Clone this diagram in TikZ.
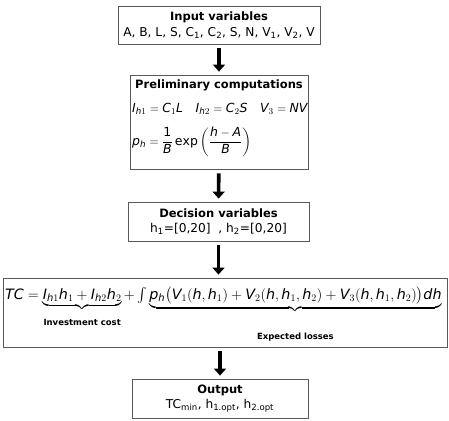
\documentclass[tikz,border=0pt]{standalone}
\usepackage{amsmath}
\usepackage{fontspec}
\setmainfont{DejaVu Sans}
\usetikzlibrary{arrows.meta}
\usetikzlibrary{positioning}
\tikzset{
  box/.style={draw=black!65, line width=0.8pt, inner sep=0pt, align=center,
    font=\fontsize{12.2}{14}\selectfont},
  title/.style={font=\fontsize{11.5}{13}\selectfont\bfseries, inner sep=0pt},
  flow/.style={line width=3.6pt, -{Triangle[width=12pt,length=7pt]},
    shorten <=4pt, shorten >=3pt}
}
\newcommand{\iv}[1]{\mathit{#1}}
\newcommand{\lo}[1]{\textsubscript{#1}}
\newcommand{\hd}[1]{{\fontsize{11.5}{13}\selectfont\bfseries #1}}
\newcommand{\notefont}{\fontsize{8.5}{10}\selectfont\bfseries}

\begin{document}
\begin{tikzpicture}[x=1pt,y=-1pt]
\useasboundingbox (0,0) rectangle (449,420);
% input
\node[box, minimum width=202pt, minimum height=38pt] (input) at (219,25)
  {\hd{Input variables}\\[2pt]
   A, B, L, S, C\lo{1}, C\lo{2}, S, N, V\lo{1}, V\lo{2}, V};
% preliminary computations
\node[box, minimum width=178pt, minimum height=94pt] (prelim) at (219,122) {};
\node[title] (prelimtitle) at (219,85) {Preliminary computations};
\node[anchor=west, inner sep=0pt, font=\fontsize{12.5}{14}\selectfont] (costs) at (132,109)
  {$\iv{I}_{\iv{h}1}=\iv{C}_1\iv{L}\quad \iv{I}_{\iv{h}2}=\iv{C}_2\iv{S}\quad \iv{V}_3=\iv{NV}$};
\node[anchor=west, inner sep=0pt, font=\fontsize{12.5}{14}\selectfont] (density) at (132,142)
  {$\displaystyle\iv{p}_{\iv{h}}=\frac{\mathrm{1}}{\iv{B}}\exp\left(\frac{\iv{h}-\iv{A}}{\iv{B}}\right)$};
% decision variables
\node[box, minimum width=181pt, minimum height=39pt] (decision) at (218.5,221.5)
  {\hd{Decision variables}\\[1pt]
   h\lo{1}=[0,20]\ \ , h\lo{2}=[0,20]};
% objective
\node[box, minimum width=444pt, minimum height=69pt] (objective) at (225,312.5) {};
\node[anchor=base west, inner sep=0pt, font=\fontsize{14.3}{17}\selectfont] (tc) at (5,299)
  {$\iv{TC}=\underbrace{\iv{I}_{\iv{h}1}\iv{h}_1+\iv{I}_{\iv{h}2}\iv{h}_2}_{\raisebox{-7pt}{\notefont Investment cost}}
   +\int\underbrace{\iv{p}_{\iv{h}}\bigl(\iv{V}_1(\iv{h},\iv{h}_1)+\iv{V}_2(\iv{h},\iv{h}_1,\iv{h}_2)
   +\iv{V}_3(\iv{h},\iv{h}_1,\iv{h}_2)\bigr)\iv{dh}}_{\raisebox{-19pt}{\notefont Expected losses}}$};
% output
\node[box, minimum width=176pt, minimum height=39pt] (output) at (220,398.5)
  {\hd{Output}\\[1pt]
   TC\lo{min}, h\lo{1.opt}, h\lo{2.opt}};
% arrows
\draw[flow] (input) -- (prelim);
\draw[flow] (prelim) -- (decision);
\draw[flow] (decision.south) -- (decision.south |- objective.north);
\draw[flow] (output.north |- objective.south) -- (output.north);
\end{tikzpicture}
\end{document}
